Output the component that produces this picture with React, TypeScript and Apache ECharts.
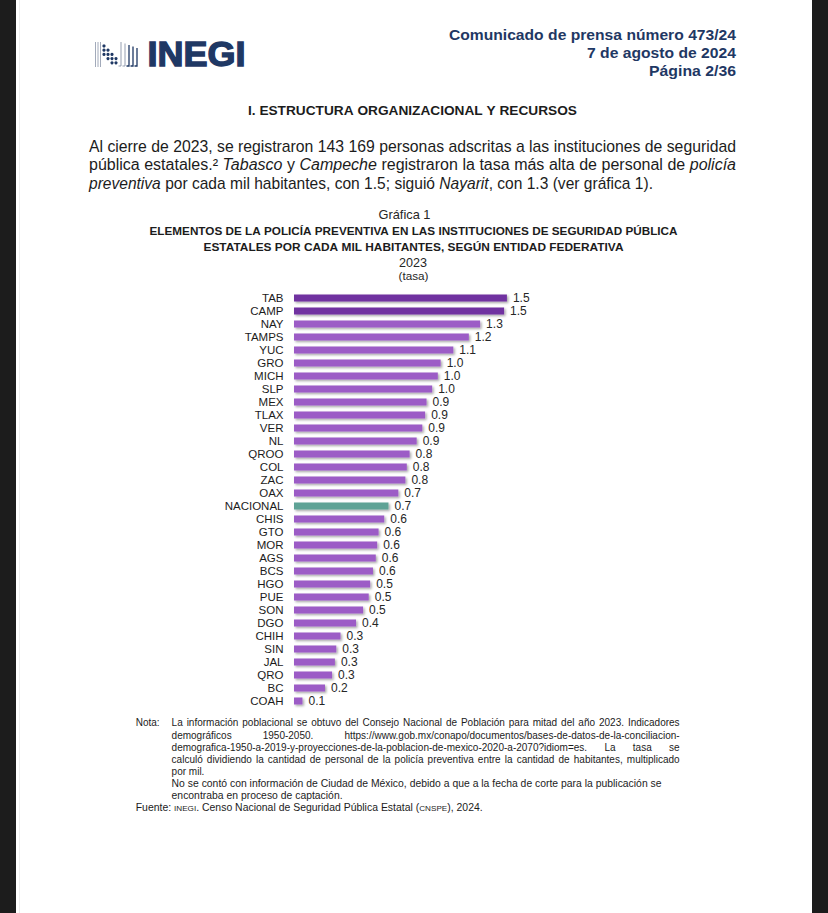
import React, { useEffect, useRef } from 'react';
import * as echarts from 'echarts';

// ---------- data ----------
const categories = [
  'TAB', 'CAMP', 'NAY', 'TAMPS', 'YUC', 'GRO', 'MICH', 'SLP', 'MEX', 'TLAX', 'VER', 'NL',
  'QROO', 'COL', 'ZAC', 'OAX', 'NACIONAL', 'CHIS', 'GTO', 'MOR', 'AGS', 'BCS', 'HGO', 'PUE',
  'SON', 'DGO', 'CHIH', 'SIN', 'JAL', 'QRO', 'BC', 'COAH',
];
const values = [
  1.51, 1.49, 1.32, 1.24, 1.13, 1.04, 1.02, 0.98, 0.94, 0.93, 0.91, 0.87,
  0.82, 0.80, 0.79, 0.74, 0.67, 0.64, 0.60, 0.59, 0.58, 0.56, 0.54, 0.53,
  0.49, 0.44, 0.33, 0.30, 0.29, 0.27, 0.22, 0.06,
];
const darkCategories = ['TAB', 'CAMP'];
const nationalCategory = 'NACIONAL';

const headerLines = ['Comunicado de prensa número 473/24', '7 de agosto de 2024', 'Página 2/36'];
const logoText = 'INEGI';
const sectionTitle = 'I. ESTRUCTURA ORGANIZACIONAL Y RECURSOS';
const chartTitleLines = [
  'Gráfica 1',
  'ELEMENTOS DE LA POLICÍA PREVENTIVA EN LAS INSTITUCIONES DE SEGURIDAD PÚBLICA',
  'ESTATALES POR CADA MIL HABITANTES, SEGÚN ENTIDAD FEDERATIVA',
  '2023',
  '(tasa)',
];

type Piece = { t: string; it?: boolean; sc?: boolean };

const paragraphLines: Piece[][] = [
  [{ t: 'Al cierre de 2023, se registraron 143 169 personas adscritas a las instituciones de seguridad' }],
  [
    { t: 'pública estatales.² ' }, { t: 'Tabasco', it: true }, { t: ' y ' }, { t: 'Campeche', it: true },
    { t: ' registraron la tasa más alta de personal de ' }, { t: 'policía', it: true },
  ],
  [
    { t: 'preventiva', it: true }, { t: ' por cada mil habitantes, con 1.5; siguió ' }, { t: 'Nayarit', it: true },
    { t: ', con 1.3 (ver gráfica 1).' },
  ],
];

const noteLabel = 'Nota:';
const noteLines: Piece[][] = [
  [{ t: 'La información poblacional se obtuvo del Consejo Nacional de Población para mitad del año 2023. Indicadores' }],
  [{ t: 'demográficos 1950-2050. https://www.gob.mx/conapo/documentos/bases-de-datos-de-la-conciliacion-' }],
  [{ t: 'demografica-1950-a-2019-y-proyecciones-de-la-poblacion-de-mexico-2020-a-2070?idiom=es. La tasa se' }],
  [{ t: 'calculó dividiendo la cantidad de personal de la policía preventiva entre la cantidad de habitantes, multiplicado' }],
  [{ t: 'por mil.' }],
  [{ t: 'No se contó con información de Ciudad de México, debido a que a la fecha de corte para la publicación se' }],
  [{ t: 'encontraba en proceso de captación.' }],
];
const sourceLine: Piece[] = [
  { t: 'Fuente: ' }, { t: 'INEGI', sc: true }, { t: '. Censo Nacional de Seguridad Pública Estatal (' },
  { t: 'CNSPE', sc: true }, { t: '), 2024.' },
];

// ---------- helpers ----------
const FONT = '"Liberation Sans", Arial, Helvetica, sans-serif';
const TEXT = '#1c1c1c';
const NAVY = '#1f3864';

type LineOpt = {
  x: number; y: number; size: number; bold?: boolean; color: string;
  width?: number; mode?: 'justify' | 'fit' | 'natural'; align?: 'left' | 'right' | 'center'; stroke?: number;
};

function buildLine(ctx: CanvasRenderingContext2D, pieces: Piece[], o: LineOpt) {
  const toks: Piece[][] = [];
  let cur: Piece[] = [];
  pieces.forEach((p) => {
    const parts = p.t.split(' ');
    parts.forEach((part, i) => {
      if (i > 0) {
        if (cur.length) toks.push(cur);
        cur = [];
      }
      if (part) cur.push({ ...p, t: p.sc ? part.toUpperCase() : part });
    });
  });
  if (cur.length) toks.push(cur);
  const sizeOf = (p: Piece) => (p.sc ? o.size * 0.78 : o.size);
  const fontOf = (p: Piece) =>
    `${p.it ? 'italic' : 'normal'} ${o.bold ? 'bold' : 'normal'} ${sizeOf(p)}px ${FONT}`;
  const w = (p: Piece) => {
    ctx.font = fontOf(p);
    return ctx.measureText(p.t).width;
  };
  ctx.font = fontOf({ t: ' ' });
  const space = ctx.measureText(' ').width;
  const tokW = toks.map((tk) => tk.reduce((s, p) => s + w(p), 0));
  const sumW = tokW.reduce((a, b) => a + b, 0);
  const n = toks.length;
  const natural = sumW + space * (n - 1);
  let scale = 1;
  let gap = space;
  const mode = o.mode || 'natural';
  if (o.width && mode === 'fit') scale = o.width / natural;
  if (o.width && mode === 'justify') {
    scale = Math.min(1, o.width / natural);
    gap = n > 1 ? (o.width / scale - sumW) / (n - 1) : space;
  }
  const total = (sumW + gap * (n - 1)) * scale;
  let x0 = o.x;
  if (o.align === 'right') x0 = o.x - total;
  if (o.align === 'center') x0 = o.x - total / 2;
  const children: any[] = [];
  let cx = 0;
  toks.forEach((tk, ti) => {
    tk.forEach((p) => {
      const size = sizeOf(p);
      const style: any = {
        text: p.t, fontSize: size, fontFamily: FONT,
        fontStyle: p.it ? 'italic' : 'normal', fontWeight: o.bold ? 'bold' : 'normal',
        fill: o.color, align: 'left', verticalAlign: 'middle',
      };
      if (o.stroke) {
        style.stroke = o.color;
        style.lineWidth = o.stroke;
      }
      children.push({ type: 'text', x: cx, y: p.sc ? (o.size - size) * 0.3 : 0, style });
      cx += w(p);
    });
    if (ti < n - 1) cx += gap;
  });
  return { type: 'group', x: x0, y: o.y, scaleX: scale, children };
}

function barColor(cat: string) {
  if (cat === nationalCategory) return '#5fa396';
  if (darkCategories.includes(cat)) return '#7030a0';
  return '#9c5bc6';
}

export default function App() {
  const ref = useRef<HTMLDivElement>(null);

  useEffect(() => {
    if (!ref.current) return;
    const chart = echarts.init(ref.current, undefined, { renderer: 'svg' });
    const ctx = document.createElement('canvas').getContext('2d') as CanvasRenderingContext2D;
    const L = (pieces: Piece[] | string, o: LineOpt) =>
      buildLine(ctx, typeof pieces === 'string' ? [{ t: pieces }] : pieces, o);

    const graphics: any[] = [];
    // page borders
    graphics.push({ type: 'rect', shape: { x: 0, y: 0, width: 16, height: 913 }, style: { fill: '#1c1c1c' } });
    graphics.push({ type: 'rect', shape: { x: 812, y: 0, width: 16, height: 913 }, style: { fill: '#1c1c1c' } });
    graphics.push({ type: 'line', shape: { x1: 19.5, y1: 0, x2: 19.5, y2: 913 }, style: { stroke: '#eeeeee', lineWidth: 1 } });

    // logo mark
    [95.5, 98, 100.5].forEach((x) =>
      graphics.push({ type: 'line', shape: { x1: x, y1: 42, x2: x, y2: 67 }, style: { stroke: '#8a94a8', lineWidth: 0.8 } })
    );
    const dotCols = [104, 108, 112, 116];
    dotCols.forEach((x, ci) => {
      for (let r = 0; r < 3; r++) {
        const y = 46 + (ci + r) * 4.2;
        if (y < 66) graphics.push({ type: 'circle', shape: { cx: x, cy: y, r: 1.6 }, style: { fill: NAVY } });
      }
    });
    [121, 125, 129, 133, 137].forEach((x, i) => {
      const top = 42 + i * 1.5;
      graphics.push({
        type: 'polyline',
        shape: { points: [[x, top], [x, 66], [x - 2.5, 66]] },
        style: { stroke: i < 2 ? '#8a94a8' : NAVY, lineWidth: i < 2 ? 0.9 : 1.3, fill: 'none' },
      });
    });
    graphics.push(L(logoText, { x: 147.5, y: 54.5, size: 35, bold: true, color: NAVY, width: 98, mode: 'fit', stroke: 1.4 }));

    // header
    graphics.push(L(headerLines[0], { x: 736, y: 35, size: 15, bold: true, color: NAVY, width: 287, mode: 'fit', align: 'right' }));
    graphics.push(L(headerLines[1], { x: 736, y: 53, size: 15, bold: true, color: NAVY, width: 149, mode: 'fit', align: 'right' }));
    graphics.push(L(headerLines[2], { x: 736, y: 71, size: 15, bold: true, color: NAVY, width: 87, mode: 'fit', align: 'right' }));

    // section heading
    graphics.push(L(sectionTitle, { x: 248, y: 111, size: 13, bold: true, color: TEXT, width: 329, mode: 'fit' }));

    // paragraph
    graphics.push(L(paragraphLines[0], { x: 89, y: 146.5, size: 16, color: TEXT, width: 647, mode: 'justify' }));
    graphics.push(L(paragraphLines[1], { x: 89, y: 164.5, size: 16, color: TEXT, width: 647, mode: 'justify' }));
    graphics.push(L(paragraphLines[2], { x: 89, y: 183, size: 16, color: TEXT, width: 564, mode: 'fit' }));

    // chart titles
    graphics.push(L(chartTitleLines[0], { x: 378.5, y: 215, size: 12.5, color: '#262626', width: 52, mode: 'fit' }));
    graphics.push(L(chartTitleLines[1], { x: 149.5, y: 231, size: 11.5, bold: true, color: TEXT, width: 528, mode: 'fit' }));
    graphics.push(L(chartTitleLines[2], { x: 203.5, y: 247, size: 11.5, bold: true, color: TEXT, width: 420, mode: 'fit' }));
    graphics.push(L(chartTitleLines[3], { x: 399, y: 263, size: 12.5, color: '#262626', width: 28, mode: 'fit' }));
    graphics.push(L(chartTitleLines[4], { x: 398.5, y: 276.5, size: 11, color: '#262626', width: 30, mode: 'fit' }));

    // notes
    const noteY = [722, 735, 747.5, 759.5, 771.7, 783.5, 795.5];
    graphics.push(L(noteLabel, { x: 135.7, y: noteY[0], size: 10, color: TEXT }));
    noteLines.forEach((ln, i) => {
      const opt: LineOpt = { x: 171.6, y: noteY[i], size: 10, color: TEXT };
      if (i < 4) Object.assign(opt, { width: 508, mode: 'justify' });
      if (i === 5) Object.assign(opt, { width: 490, mode: 'fit' });
      if (i === 6) Object.assign(opt, { width: 171, mode: 'fit' });
      graphics.push(L(ln, opt));
    });
    graphics.push(L(sourceLine, { x: 135.7, y: 807.8, size: 10, color: TEXT, width: 347, mode: 'fit' }));

    chart.setOption({
      animation: false,
      backgroundColor: '#ffffff',
      grid: { left: 294, top: 291.5, width: 282, height: 416, containLabel: false, outerBoundsMode: 'none' },
      xAxis: { type: 'value', min: 0, max: 2, show: false },
      yAxis: {
        type: 'category',
        data: categories,
        inverse: true,
        axisLine: { show: false },
        axisTick: { show: false },
        splitLine: { show: false },
        axisLabel: { interval: 0, fontSize: 11.5, color: '#1c1c1c', fontFamily: FONT, margin: 10.5 },
      },
      series: [
        {
          type: 'bar',
          barWidth: 7,
          data: values.map((v, i) => ({ value: v, itemStyle: { color: barColor(categories[i]) } })),
          itemStyle: {
            shadowColor: 'rgba(0,0,0,0.35)',
            shadowBlur: 2,
            shadowOffsetX: 1.5,
            shadowOffsetY: 1.5,
          },
          label: {
            show: true,
            position: 'right',
            distance: 6,
            formatter: (p: any) => Number(p.value).toFixed(1),
            fontSize: 12,
            color: '#262626',
            fontFamily: FONT,
          },
        },
      ],
      graphic: graphics,
    });

    return () => chart.dispose();
  }, []);

  return <div ref={ref} style={{ position: 'absolute', left: 0, top: 0, width: 828, height: 913 }} />;
}
